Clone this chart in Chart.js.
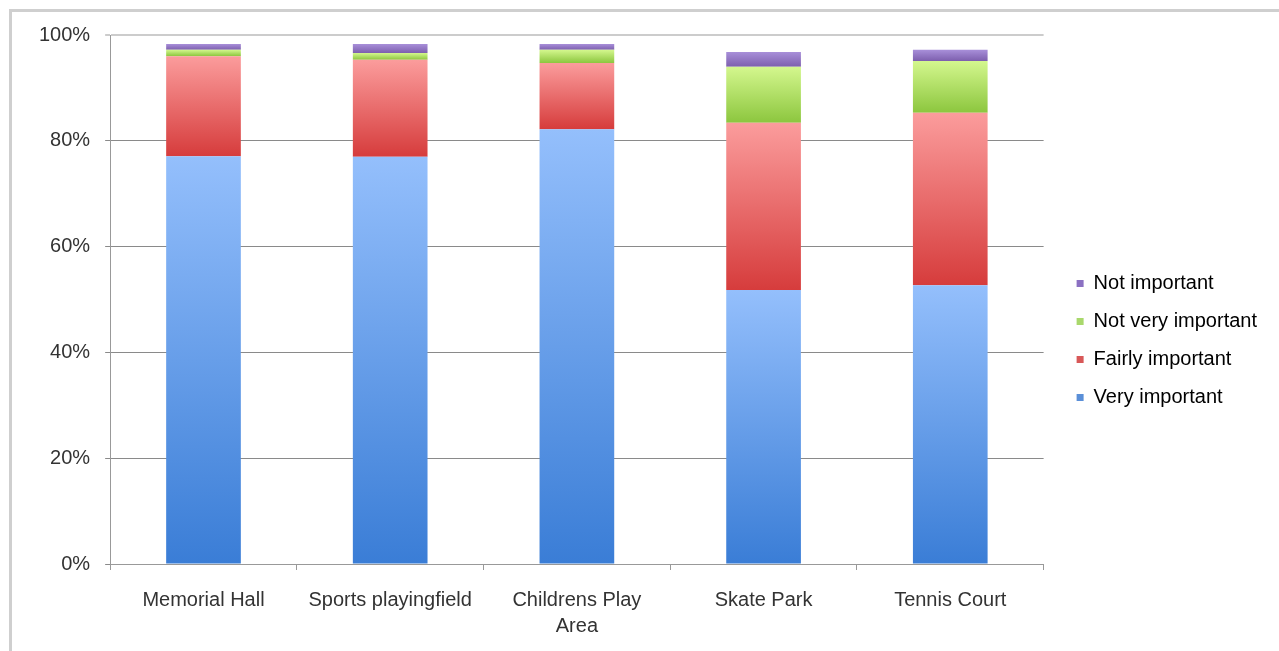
<!DOCTYPE html>
<html>
<head>
<meta charset="utf-8">
<script src="https://cdn.jsdelivr.net/npm/chart.js@4"></script>
<style>
  html, body { margin: 0; padding: 0; background: #fff; }
  #frame {
    position: absolute; left: 9px; top: 9px; width: 1270px; height: 642px;
    border-left: 3px solid #cfcfcf; border-top: 3px solid #cfcfcf; box-sizing: border-box;
  }
  #wrap { position: absolute; left: 0; top: 0; width: 1267px; height: 639px; }
</style>
</head>
<body>
<div id="frame"><div id="wrap"><canvas id="grafico"></canvas></div></div>
<script>
// dados (em %)
const categorias = ['Memorial Hall', 'Sports playingfield', ['Childrens Play', 'Area'], 'Skate Park', 'Tennis Court'];
const veryImportant = [77.1, 77.0, 82.2, 51.8, 52.7];
const fairlyImportant = [18.9, 18.3, 12.5, 31.6, 32.6];
const notVeryImportant = [1.2, 1.3, 2.5, 10.6, 9.8];
const notImportant = [1.1, 1.7, 1.1, 2.8, 2.1];
const yTicks = [0, 20, 40, 60, 80, 100];

const series = [veryImportant, fairlyImportant, notVeryImportant, notImportant];
const nomes = ['Very important', 'Fairly important', 'Not very important', 'Not important'];
const cores = [
  ['#94bffc', '#3a7dd6'],
  ['#fb9c9c', '#d63c3c'],
  ['#d4f78e', '#8cc63e'],
  ['#a88fd9', '#7d5fae']
];
const coresLegenda = ['#5a8fd8', '#d85858', '#a9d86c', '#8b70c2'];
const fonte = { family: 'Liberation Sans', size: 20, lineHeight: 1.3 };

function gradiente(ctx, k) {
  const chart = ctx.chart;
  if (!chart.chartArea || ctx.dataIndex === undefined) return cores[k][1];
  const i = ctx.dataIndex;
  let inicio = 0;
  for (let s = 0; s < k; s++) inicio += series[s][i];
  const fim = inicio + series[k][i];
  const y = chart.scales.y;
  const g = chart.ctx.createLinearGradient(0, y.getPixelForValue(fim), 0, y.getPixelForValue(inicio));
  g.addColorStop(0, cores[k][0]);
  g.addColorStop(1, cores[k][1]);
  return g;
}

// empurra a legenda um pouco para a direita e para baixo, como no original
const moveLegenda = {
  id: 'moveLegenda',
  afterLayout(chart) {
    chart.legend.left += 15;
    chart.legend.right += 15;
    chart.legend.top += 15;
    chart.legend.bottom += 15;
  }
};

const ctx = document.getElementById('grafico');

new Chart(ctx, {
  type: 'bar',
  data: {
    labels: categorias,
    datasets: series.map((d, k) => ({
      label: nomes[k],
      data: d,
      backgroundColor: (c) => gradiente(c, k),
      borderWidth: 0,
      barPercentage: 0.4,
      categoryPercentage: 1
    }))
  },
  plugins: [moveLegenda],
  options: {
    responsive: true,
    maintainAspectRatio: false,
    animation: false,
    layout: { padding: { left: 12, top: 0, bottom: 12, right: 27 } },
    plugins: {
      tooltip: { enabled: false },
      legend: {
        position: 'right',
        labels: {
          boxWidth: 7,
          boxHeight: 7,
          padding: 18,
          color: '#2a2a2a',
          font: fonte,
          generateLabels: (chart) => nomes.map((n, k) => ({
            text: n,
            fillStyle: coresLegenda[k],
            strokeStyle: coresLegenda[k],
            lineWidth: 0,
            datasetIndex: k
          })).reverse()
        }
      }
    },
    scales: {
      x: {
        stacked: true,
        afterFit: (scale) => { scale.height = 75; },
        grid: { display: true, drawOnChartArea: false, offset: true, tickLength: 6, color: '#999' },
        border: { color: '#999', width: 1 },
        ticks: { color: '#333', padding: 17, font: fonte, maxRotation: 0 }
      },
      y: {
        stacked: true,
        min: 0,
        max: 100,
        afterBuildTicks: (axis) => { axis.ticks = yTicks.map(v => ({ value: v })); },
        afterFit: (scale) => { scale.paddingTop = 23; },
        grid: {
          color: (c) => c.tick && c.tick.value === 100 ? '#cccccc' : '#8a8a8a',
          lineWidth: (c) => c.tick && c.tick.value === 100 ? 2 : 1,
          tickLength: 5
        },
        border: { color: '#999', width: 1 },
        ticks: {
          color: '#333',
          padding: 15,
          font: fonte,
          callback: (v) => v + '%'
        }
      }
    }
  }
});
</script>
</body>
</html>
